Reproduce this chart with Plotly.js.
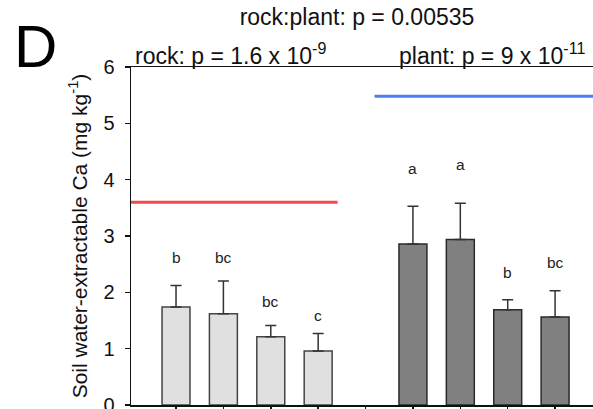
<!DOCTYPE html>
<html>
<head>
<meta charset="utf-8">
<script src="https://cdn.plot.ly/plotly-3.0.1.min.js"></script>
<style>html,body{margin:0;padding:0;background:#fff;}#chart{width:593px;height:409px;}</style>
</head>
<body>
<div id="chart"></div>
<script>
// ---- data ----
const rockPos = [1, 2, 3, 4];
const rockMeans = [1.74, 1.62, 1.21, 0.96];
const rockErr = [0.38, 0.58, 0.20, 0.31];
const rockLetters = ['b', 'bc', 'bc', 'c'];
const rockLetterY = [2.61, 2.61, 1.83, 1.58];

const plantPos = [6, 7, 8, 9];
const plantMeans = [2.86, 2.94, 1.69, 1.56];
const plantErr = [0.67, 0.64, 0.18, 0.47];
const plantLetters = ['a', 'a', 'b', 'bc'];
const plantLetterY = [4.20, 4.27, 2.36, 2.53];

const rockRefX = [0.05, 4.41];
const rockRefY = [3.6, 3.6];
const plantRefX = [5.19, 9.8];
const plantRefY = [5.48, 5.48];

const yTickVals = [0, 1, 2, 3, 4, 5, 6];
const xTickVals = [1, 2, 3, 4, 5, 6, 7, 8, 9];

const panelLabel = 'D';
const mainTitle = 'rock:plant: p = 0.00535';
const rockTitle = 'rock: p = 1.6 x 10<sup>-9</sup>';
const plantTitle = 'plant: p = 9 x 10<sup>-11</sup>';
const yTitle = 'Soil water-extractable Ca (mg kg<sup>-1</sup>)';

// ---- chart ----
const FONT = 'Liberation Sans, Arial, sans-serif';
const zeros = a => a.map(() => 0);

const traces = [
  {
    type: 'bar', x: rockPos, y: rockMeans, width: 0.59,
    marker: {color: '#e0e0e0', line: {color: '#444', width: 1.5}},
    error_y: {type: 'data', symmetric: false, array: rockErr, arrayminus: zeros(rockErr),
              color: '#333', thickness: 1.5, width: 5.5},
    hoverinfo: 'skip', showlegend: false
  },
  {
    type: 'bar', x: plantPos, y: plantMeans, width: 0.59,
    marker: {color: '#808080', line: {color: '#2a2a2a', width: 1.5}},
    error_y: {type: 'data', symmetric: false, array: plantErr, arrayminus: zeros(plantErr),
              color: '#333', thickness: 1.5, width: 5.5},
    hoverinfo: 'skip', showlegend: false
  },
  {
    type: 'scatter', mode: 'lines', x: rockRefX, y: rockRefY,
    line: {color: '#f24a4a', width: 3}, showlegend: false, hoverinfo: 'skip'
  },
  {
    type: 'scatter', mode: 'lines', x: plantRefX, y: plantRefY,
    line: {color: '#4a80f5', width: 3}, showlegend: false, hoverinfo: 'skip'
  }
];

const annotations = [];
rockPos.forEach((p, i) => annotations.push({
  x: p, y: rockLetterY[i], xref: 'x', yref: 'y', text: rockLetters[i],
  showarrow: false, xanchor: 'center', yanchor: 'middle',
  font: {family: FONT, size: 15.5, color: '#222'}
}));
plantPos.forEach((p, i) => annotations.push({
  x: p, y: plantLetterY[i], xref: 'x', yref: 'y', text: plantLetters[i],
  showarrow: false, xanchor: 'center', yanchor: 'middle',
  font: {family: FONT, size: 15.5, color: '#222'}
}));
annotations.push({
  x: (133 - 131) / 462, y: 1, xref: 'paper', yref: 'paper', text: rockTitle,
  showarrow: false, xanchor: 'left', yanchor: 'bottom', yshift: -4,
  font: {family: FONT, size: 23, color: '#111'}
});
annotations.push({
  x: (397 - 131) / 462, y: 1, xref: 'paper', yref: 'paper', text: plantTitle,
  showarrow: false, xanchor: 'left', yanchor: 'bottom', yshift: -4,
  font: {family: FONT, size: 23, color: '#111'}
});
annotations.push({
  x: (12 - 131) / 462, y: (405 - 46) / 338, xref: 'paper', yref: 'paper', text: panelLabel,
  showarrow: false, xanchor: 'left', yanchor: 'middle',
  font: {family: FONT, size: 60, color: '#000'}
});

const layout = {
  width: 593, height: 409,
  margin: {l: 131, r: 0, t: 67, b: 4, pad: 0},
  paper_bgcolor: '#fff', plot_bgcolor: '#fff',
  font: {family: FONT, color: '#111'},
  title: {
    text: mainTitle, xref: 'container', yref: 'container',
    x: 357 / 593, xanchor: 'center', y: 1 - 17 / 409, yanchor: 'middle',
    font: {family: FONT, size: 23, color: '#111'}
  },
  xaxis: {
    range: [0.05, 9.8], tickvals: xTickVals, showticklabels: false,
    ticks: 'outside', ticklen: 6, tickwidth: 1.5, tickcolor: '#111',
    showline: true, linecolor: '#111', linewidth: 1.5, mirror: true,
    showgrid: false, zeroline: false, fixedrange: true
  },
  yaxis: {
    range: [0, 6], tickvals: yTickVals,
    ticks: 'outside', ticklen: 5, tickwidth: 1.5, tickcolor: '#111',
    tickfont: {family: FONT, size: 20, color: '#111'},
    ticklabelstandoff: 6, ticklabeloverflow: 'allow',
    showline: true, linecolor: '#111', linewidth: 1.5,
    showgrid: false, zeroline: false, fixedrange: true,
    title: {text: yTitle, font: {family: FONT, size: 21, color: '#111'}, standoff: 10}
  },
  annotations: annotations,
  bargap: 0
};

Plotly.newPlot('chart', traces, layout, {staticPlot: true, displayModeBar: false});
</script>
</body>
</html>
